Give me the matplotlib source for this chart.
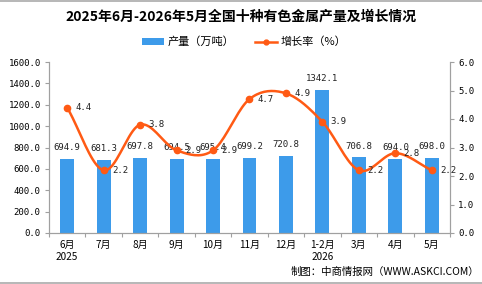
import numpy as np
import matplotlib
matplotlib.use("Agg")
import matplotlib.pyplot as plt
from matplotlib.lines import Line2D
from matplotlib.patches import Patch

plt.rcParams['font.family'] = ['Noto Sans CJK SC', 'DejaVu Sans']
MONO = ['DejaVu Sans Mono', 'Noto Sans CJK SC']

categories = ["6月\n2025", "7月", "8月", "9月", "10月", "11月", "12月", "1-2月\n2026", "3月", "4月", "5月"]
output = [694.9, 681.3, 697.8, 694.5, 695.4, 699.2, 720.8, 1342.1, 706.8, 694.0, 698.0]
growth = [4.4, 2.2, 3.8, 2.9, 2.9, 4.7, 4.9, 3.9, 2.2, 2.8, 2.2]

bar_color = "#3D9BEA"
line_color = "#FF5A14"
axis_color = "#A0A0A0"

fig = plt.figure(figsize=(4.82, 2.84), dpi=100)
ax = fig.add_axes([49/482, 51/284, 401/482, 171/284])
ax2 = ax.twinx()

x = np.arange(len(categories))
ax.bar(x, output, width=0.38, color=bar_color, zorder=2)
ax.set_xlim(-0.5, len(categories) - 0.5)
ax.set_ylim(0, 1600)
ax.set_yticks(np.arange(0, 1601, 200))
ax.set_yticklabels([f"{v:.1f}" for v in np.arange(0, 1601, 200)], fontsize=6.5, family=MONO)
ax.set_xticks(np.arange(-0.5, len(categories), 1.0))
ax.set_xticklabels([])
ax.set_xticks(x, minor=True)
ax.set_xticklabels(categories, minor=True, fontsize=7.2, linespacing=1.3)
ax.tick_params(axis='x', which='minor', length=0, pad=5)
ax.tick_params(axis='x', which='major', length=3, color=axis_color, direction='out')
ax.tick_params(axis='y', length=3, color=axis_color, pad=3)

for xi, v in zip(x, output):
    ax.annotate(f"{v:.1f}", (xi, v), xytext=(0, 5), textcoords='offset points',
                ha='center', va='bottom', fontsize=6.5, family=MONO, color='#222222')

# smooth curve (Catmull-Rom) through data points
def catmull(xs, ys, n=20):
    px = np.concatenate([[2*xs[0]-xs[1]], xs, [2*xs[-1]-xs[-2]]])
    py = np.concatenate([[2*ys[0]-ys[1]], ys, [2*ys[-1]-ys[-2]]])
    ox, oy = [], []
    for i in range(1, len(px) - 2):
        t = np.linspace(0, 1, n, endpoint=False)
        for arr, out in ((px, ox), (py, oy)):
            p0, p1, p2, p3 = arr[i-1], arr[i], arr[i+1], arr[i+2]
            out.extend(0.5*((2*p1) + (-p0+p2)*t + (2*p0-5*p1+4*p2-p3)*t**2 + (-p0+3*p1-3*p2+p3)*t**3))
    ox.append(xs[-1]); oy.append(ys[-1])
    return np.array(ox), np.array(oy)

sx, sy = catmull(x.astype(float), np.array(growth, dtype=float))
ax2.plot(sx, sy, color=line_color, lw=1.8, zorder=3)
ax2.plot(x, growth, 'o', color=line_color, ms=4.5, zorder=4)
ax2.set_ylim(0, 6)
ax2.set_yticks(np.arange(0, 6.1, 1))
ax2.set_yticklabels([f"{v:.1f}" for v in np.arange(0, 6.1, 1)], fontsize=6.5, family=MONO)
ax2.tick_params(axis='y', length=3, color=axis_color, pad=3)
for xi, v in zip(x, growth):
    ax2.annotate(f"{v:.1f}", (xi, v), xytext=(6, 0), textcoords='offset points',
                 ha='left', va='center', fontsize=6.5, family=MONO, color='#222222')

for a in (ax, ax2):
    a.spines['top'].set_visible(False)
    for s in ('left', 'right', 'bottom'):
        a.spines[s].set_color(axis_color)
        a.spines[s].set_linewidth(0.8)

fig.text(0.5, 1 - 17/284, "2025年6月-2026年5月全国十种有色金属产量及增长情况",
         ha='center', va='center', fontsize=10, fontweight='bold')

handles = [Patch(facecolor=bar_color, edgecolor='none'),
           Line2D([0], [0], color=line_color, lw=1.8, marker='o', ms=3.5)]
fig.legend(handles, ["产量（万吨）", "增长率（%）"], loc='center', bbox_to_anchor=(244/482, 1 - 42/284),
           ncol=2, frameon=False, fontsize=8, handlelength=2.0, handleheight=0.6,
           columnspacing=1.8, handletextpad=0.3)

fig.text(479/482, 1 - 272/284, "制图：中商情报网（WWW.ASKCI.COM）", ha='right', va='center', fontsize=7.5)

fig.add_artist(Line2D([0, 1], [0.998, 0.998], color='#AAAAAA', lw=1.2, transform=fig.transFigure))
fig.add_artist(Line2D([0, 1], [0.004, 0.004], color='#AAAAAA', lw=1.2, transform=fig.transFigure))

fig.savefig("out.png", dpi=100)
